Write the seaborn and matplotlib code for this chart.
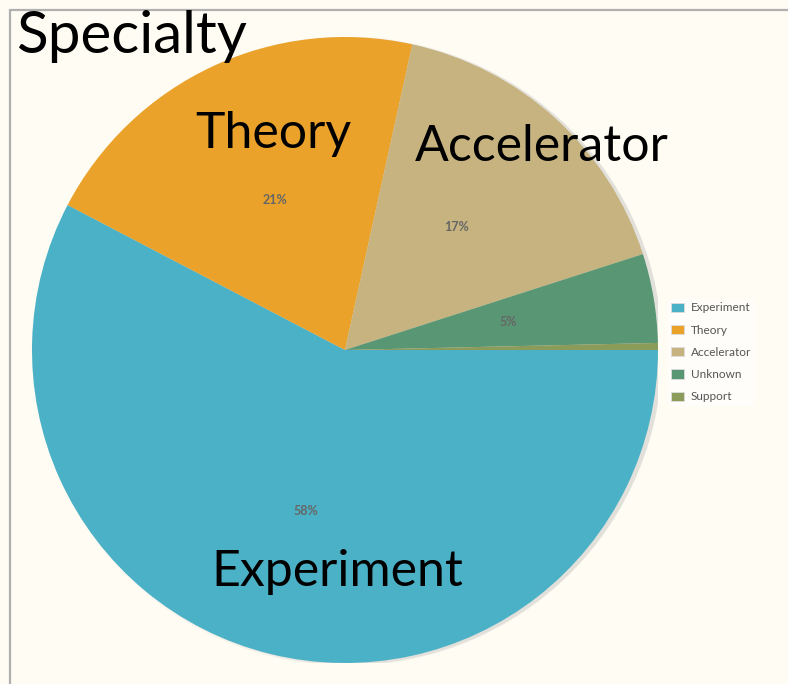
import numpy as np
import pandas as pd
import matplotlib.pyplot as plt
import seaborn as sns
from matplotlib.patches import Circle

# Data
specialties = ["Experiment", "Theory", "Accelerator", "Unknown", "Support"]
shares = [57.7, 20.8, 16.6, 4.6, 0.36]
colors = ["#4bb1c6", "#eaa22a", "#c6b37f", "#599673", "#8a9b5a"]

sns.set_theme(style="white")
plt.rcParams['font.family'] = ['Lato', 'DejaVu Sans']
bg = "#fffcf4"

fig = plt.figure(figsize=(7.88, 6.84), dpi=100, facecolor=bg)

# gray frame on left and top
fig.add_artist(plt.Line2D([10/788, 10/788], [0, 1 - 10/684], color="#b0b0b0", lw=1.6))
fig.add_artist(plt.Line2D([10/788, 1], [1 - 10/684, 1 - 10/684], color="#b0b0b0", lw=1.6))

ax = fig.add_axes([0.0406, 0.0307, 0.7944, 0.9152])
ax.patch.set_alpha(0)

# soft shadow
for i, a in enumerate([0.05, 0.08, 0.10]):
    ax.add_patch(Circle((0.008 + 0.003 * i, -0.004), 1.0 + 0.003 * (2 - i), color="#808080", alpha=a, lw=0, zorder=0))

def pct(v):
    return "%.0f%%" % v if v >= 1 else ""

wedges, texts, autotexts = ax.pie(shares, colors=colors, startangle=0, counterclock=False,
                                  autopct=pct, pctdistance=0.53, radius=1.0,
                                  wedgeprops=dict(linewidth=0),
                                  textprops=dict(color="#666666", fontsize=9, fontweight="bold"))
for w in wedges:
    w.set_zorder(2)
for t in autotexts:
    t.set_zorder(3)
ax.set_xlim(-1, 1)
ax.set_ylim(-1, 1)
ax.set_aspect("equal")
ax.axis("off")

# big overlay labels
fig.text(273/788, 1 - 148/684, "Theory", fontsize=36, ha="center", va="baseline", color="black")
fig.text(542/788, 1 - 161/684, "Accelerator", fontsize=36, ha="center", va="baseline", color="black")
fig.text(337/788, 1 - 586/684, "Experiment", fontsize=36, ha="center", va="baseline", color="black")
fig.text(16/788, 1 - 53/684, "Specialty", fontsize=42, ha="left", va="baseline", color="black")

leg = fig.legend(wedges, specialties, loc="upper left", bbox_to_anchor=(662/788, 1 - 293/684),
                 frameon=True, facecolor="#ffffff", edgecolor="none", framealpha=0.6,
                 fontsize=8.5, labelcolor="#555555", handlelength=1.05, handleheight=0.8,
                 handletextpad=0.6, labelspacing=0.95, borderpad=0.3)
for h in leg.legend_handles:
    h.set_edgecolor("#dddddd")
    h.set_linewidth(0.6)

fig.savefig("out.png", dpi=100, facecolor=bg)
